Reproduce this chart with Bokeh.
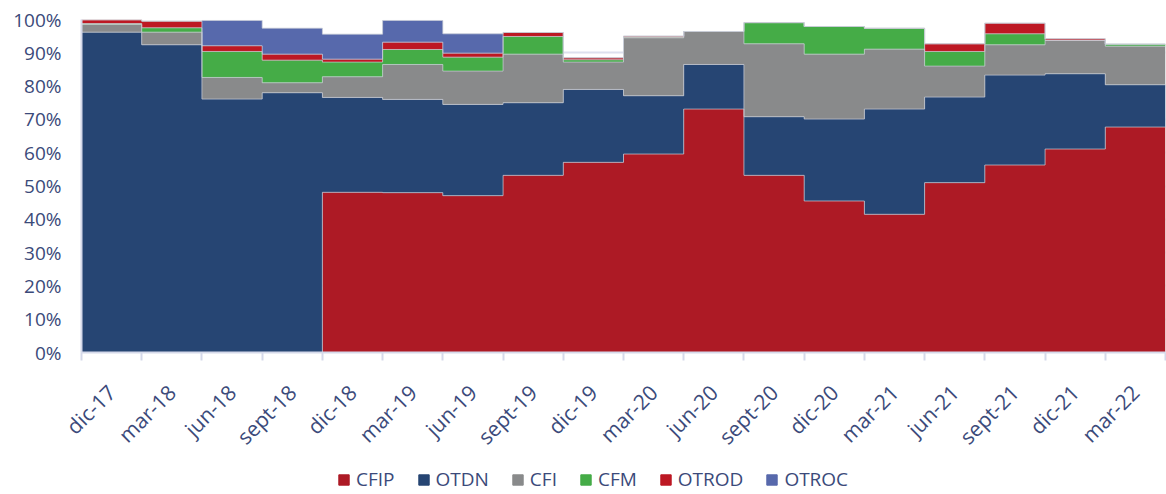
from math import pi
from bokeh.plotting import figure
from bokeh.layouts import column
from bokeh.models import FixedTicker, Legend, LegendItem, NumeralTickFormatter, Range1d
from bokeh.embed import file_html
from bokeh.resources import INLINE

categories = ["dic-17", "mar-18", "jun-18", "sept-18", "dic-18", "mar-19", "jun-19", "sept-19",
              "dic-19", "mar-20", "jun-20", "sept-20", "dic-20", "mar-21", "jun-21", "sept-21",
              "dic-21", "mar-22"]

CFIP  = [0.0, 0.0, 0.0, 0.0, 48.1, 48.0, 47.1, 53.2, 57.1, 59.6, 73.1, 53.2, 45.5, 41.5, 51.0, 56.3, 61.1, 67.7]
OTDN  = [96.2, 92.4, 76.1, 78.0, 28.5, 28.0, 27.4, 21.8, 21.9, 17.5, 13.4, 17.6, 24.6, 31.6, 25.7, 27.0, 22.6, 12.7]
CFI   = [2.3, 3.8, 6.5, 3.0, 6.2, 10.5, 10.0, 14.6, 8.2, 17.4, 9.9, 21.9, 19.5, 18.0, 9.3, 9.1, 10.0, 11.6]
CFM   = [0.3, 1.3, 7.8, 6.8, 4.4, 4.5, 4.2, 5.3, 0.7, 0.2, 0.0, 6.3, 8.3, 6.2, 4.4, 3.3, 0.0, 0.6]
OTROD = [1.1, 2.0, 1.7, 1.8, 0.9, 2.2, 1.2, 1.2, 0.6, 0.3, 0.0, 0.1, 0.0, 0.1, 2.3, 3.2, 0.5, 0.0]
OTROC = [0.0, 0.0, 7.6, 7.8, 7.5, 6.5, 5.8, 0.0, 0.0, 0.0, 0.0, 0.0, 0.0, 0.0, 0.0, 0.0, 0.0, 0.0]

names = ["CFIP", "OTDN", "CFI", "CFM", "OTROD", "OTROC"]
series = [CFIP, OTDN, CFI, CFM, OTROD, OTROC]
colors = ["#AD1A25", "#264573", "#898A8B", "#45AC47", "#BD1823", "#5769AC"]

TEXT = "#3B4A7A"
FONT = "Open Sans"

n = len(categories)
edges = list(range(n + 1))

p = figure(width=1166, height=462, output_backend="svg", toolbar_location=None,
           x_range=(0, n), y_range=(0, 1.0),
           min_border_left=81, min_border_right=1, min_border_top=19, min_border_bottom=108)
p.outline_line_color = None

lower = [0.0] * n
for nm, s, col in zip(names, series, colors):
    upper = [lo + v / 100.0 for lo, v in zip(lower, s)]
    p.varea_step(x=edges, y1=lower + [lower[-1]], y2=upper + [upper[-1]],
                 step_mode="after", fill_color=col)
    lower = upper

# outlines along stacked tops (step edges)
cum = [0.0] * n
for s in series:
    cum = [c + v / 100.0 for c, v in zip(cum, s)]
    p.step(x=edges, y=cum + [cum[-1]], mode="after",
           line_color="#C8CCD6", line_alpha=0.7, line_width=1)

# axes
p.xaxis.ticker = FixedTicker(ticks=[i + 0.5 for i in range(n)], minor_ticks=edges)
p.xaxis.major_label_overrides = {i + 0.5: c for i, c in enumerate(categories)}
p.xaxis.major_label_orientation = pi / 4
p.xaxis.major_tick_line_color = None
p.xaxis.minor_tick_line_color = "#D5D9EA"
p.xaxis.minor_tick_line_width = 2
p.xaxis.minor_tick_out = 8
p.xaxis.minor_tick_in = 0
p.xaxis.axis_line_color = "#D5D9EA"
p.xaxis.axis_line_width = 2
p.xaxis.major_label_text_font = FONT
p.xaxis.major_label_text_font_size = "21px"
p.xaxis.major_label_text_color = TEXT
p.xaxis.major_label_standoff = 28

p.yaxis.ticker = FixedTicker(ticks=[i / 10 for i in range(11)])
p.yaxis.formatter = NumeralTickFormatter(format="0%")
p.yaxis.major_tick_line_color = None
p.yaxis.minor_tick_line_color = None
p.yaxis.axis_line_color = "#D5D9EA"
p.yaxis.axis_line_width = 2
p.yaxis.major_label_text_font = FONT
p.yaxis.major_label_text_font_size = "19px"
p.yaxis.major_label_text_color = TEXT
p.yaxis.major_label_standoff = 14

p.xgrid.grid_line_color = None
p.ygrid.grid_line_color = "#DDE0EE"
p.ygrid.grid_line_width = 2

# legend strip (quads kept outside the visible range; only their legend swatches show)
lg = figure(width=1166, height=30, output_backend="svg", toolbar_location=None,
            x_range=Range1d(0, 1), y_range=Range1d(0, 1),
            min_border_left=0, min_border_right=0, min_border_top=0, min_border_bottom=0)
lg.axis.visible = False
lg.grid.visible = False
lg.outline_line_color = None
items = []
for nm, col in zip(names, colors):
    r = lg.quad(left=[-3], right=[-2], bottom=[-3], top=[-2], fill_color=col, line_color=col)
    items.append(LegendItem(label=nm, renderers=[r]))

legend = Legend(items=items, orientation="horizontal", location=(256, 0))
legend.label_text_font = FONT
legend.label_text_font_size = "19px"
legend.label_text_color = TEXT
legend.label_height = 22
legend.glyph_width = 13
legend.glyph_height = 13
legend.label_standoff = 6
legend.spacing = 22
legend.border_line_color = None
legend.background_fill_alpha = 0
legend.margin = 0
legend.padding = 4
lg.add_layout(legend, "center")

layout = column(p, lg, spacing=0)
open("out.html", "w").write(file_html(layout, INLINE))
